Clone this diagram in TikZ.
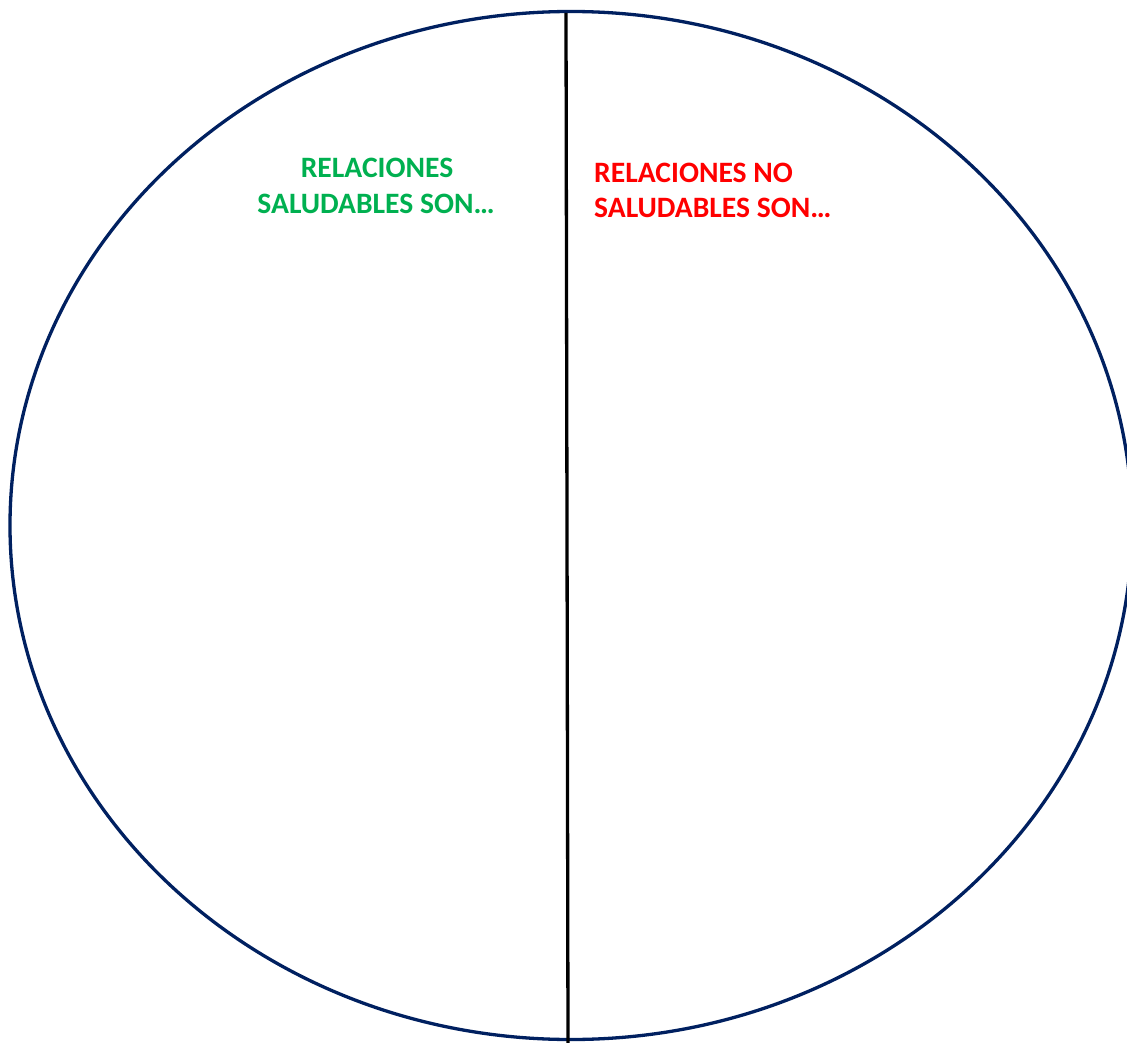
\documentclass[tikz,border=0pt]{standalone}
\usepackage{fontspec}
\setmainfont{Carlito}
\usetikzlibrary{shapes.geometric}
\definecolor{navy}{HTML}{002060}
\definecolor{okgreen}{HTML}{00B050}
\definecolor{nored}{HTML}{FF0000}
\begin{document}
\begin{tikzpicture}[x=1pt,y=-1pt,
  lbl/.style={inner sep=0pt,font=\fontsize{29.6}{36}\selectfont\bfseries}]
\useasboundingbox (0,0) rectangle (1127,1043);
\node[draw=navy,line width=3.3pt,ellipse,minimum width=1122pt,minimum height=1028pt,inner sep=0pt] (oval) at (571,525.5) {};
\coordinate (ltop) at (566,13);
\coordinate (lbot) at (568,1043);
\draw[black,line width=3.3pt] (ltop) -- (lbot);
\node[lbl,text=okgreen,anchor=base] (g1) at (377,178) {RELACIONES};
\node[lbl,text=okgreen,anchor=base] (g2) at (376,214) {SALUDABLES SON…};
\node[lbl,text=nored,anchor=base west] (r1) at (594,182.5) {RELACIONES NO};
\node[lbl,text=nored,anchor=base west] (r2) at (594,218) {SALUDABLES SON…};
\end{tikzpicture}
\end{document}
